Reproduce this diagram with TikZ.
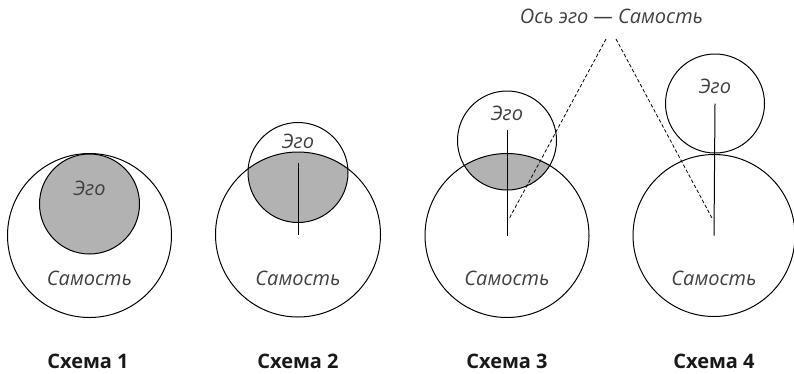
\documentclass[tikz,border=0pt]{standalone}
\usepackage{fontspec}
\setmainfont{Open Sans}
\begin{document}
\begin{tikzpicture}[x=1pt,y=-1pt,
  ring/.style={circle,draw,line width=1pt,inner sep=0pt,minimum size=#1},
  lbl/.style={font=\fontsize{20}{22}\selectfont\itshape,text=black!75,anchor=base,inner sep=0pt},
  capt/.style={font=\fontsize{20}{22}\selectfont\bfseries,text=black!90,anchor=base,inner sep=0pt},
  axisline/.style={line width=1pt},
  dline/.style={line width=0.8pt,dash pattern=on 3.5pt off 2.2pt},
  shade/.style={fill=gray!60}]
\useasboundingbox (0,0) rectangle (794,373);
% Scheme 1
\node[ring=164pt] (s1) at (89.5,235.5) {};
\node[ring=100pt,shade] (e1) at (89.5,204) {};
\node[lbl] (le1) at (89.5,195) {Эго};
\node[lbl] (ls1) at (89.5,285) {Самость};
\node[capt] (k1) at (88,368) {Схема 1};
% Scheme 2
\coordinate (c2) at (298,234.5);
\coordinate (d2) at (298,172.5);
\begin{scope}
  \clip (c2) circle (82.5);
  \fill[gray!60] (d2) circle (50);
\end{scope}
\node[ring=165pt] (s2) at (c2) {};
\node[ring=100pt] (e2) at (d2) {};
\coordinate (t2) at (298,163);
\draw[axisline] (t2) -- (s2.center);
\node[lbl] (le2) at (298,148) {Эго};
\node[lbl] (ls2) at (298,285) {Самость};
\node[capt] (k2) at (298,368) {Схема 2};
% Scheme 3
\coordinate (c3) at (507,235.5);
\coordinate (d3) at (507,140.5);
\begin{scope}
  \clip (c3) circle (82);
  \fill[gray!60] (d3) circle (49.5);
\end{scope}
\node[ring=164pt] (s3) at (c3) {};
\node[ring=99pt] (e3) at (d3) {};
\coordinate (t3) at (507,130);
\draw[axisline] (t3) -- (s3.center);
\node[lbl] (le3) at (507,120) {Эго};
\node[lbl] (ls3) at (507,285) {Самость};
\node[capt] (k3) at (507,368) {Схема 3};
% Scheme 4
\node[ring=162pt] (s4) at (714,235.5) {};
\node[ring=99pt] (e4) at (715,103.5) {};
\draw[axisline] (e4.center) -- (s4.center);
\node[lbl] (le4) at (715,93) {Эго};
\node[lbl] (ls4) at (714,285) {Самость};
\node[capt] (k4) at (714,368) {Схема 4};
% Axis
\node[lbl] (title) at (611.5,23) {Ось эго — Самость};
\coordinate (p1) at (606,39);
\coordinate (p2) at (616,39);
\coordinate (a3) at (509,219);
\coordinate (a4) at (712.5,219);
\draw[dline] (p1) -- (a3);
\draw[dline] (p2) -- (a4);
\end{tikzpicture}
\end{document}
